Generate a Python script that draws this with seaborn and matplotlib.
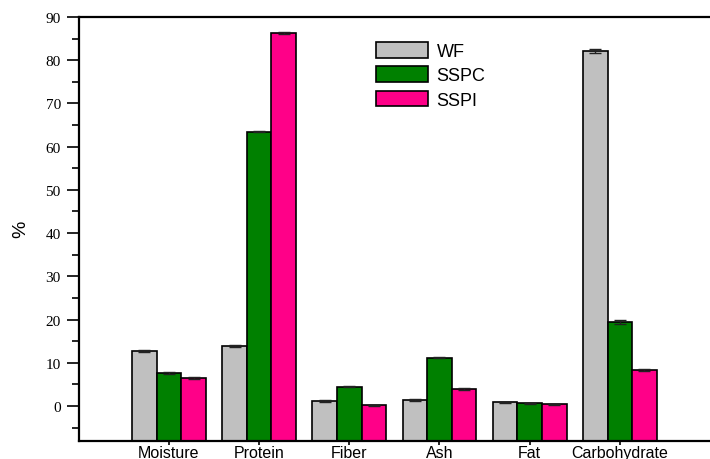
import matplotlib
matplotlib.use("Agg")
import matplotlib.pyplot as plt
from matplotlib.ticker import MultipleLocator
import seaborn as sns
import pandas as pd

categories = ["Moisture", "Protein", "Fiber", "Ash", "Fat", "Carbohydrate"]
series_names = ["WF", "SSPC", "SSPI"]
wf = [12.7, 13.8, 1.2, 1.4, 0.9, 82.1]
sspc = [7.7, 63.5, 4.5, 11.2, 0.6, 19.5]
sspi = [6.5, 86.3, 0.2, 4.0, 0.4, 8.4]
wf_err = [0.2, 0.2, 0.3, 0.2, 0.1, 0.4]
sspc_err = [0.2, 0.2, 0.2, 0.2, 0.1, 0.5]
sspi_err = [0.2, 0.2, 0.1, 0.2, 0.1, 0.2]
colors = ["#C0C0C0", "#008000", "#FF0088"]
y_min, y_max = -8, 90

values = [wf, sspc, sspi]
errors = [wf_err, sspc_err, sspi_err]
df = pd.DataFrame({
    "category": [c for _ in series_names for c in categories],
    "series": [s for s in series_names for _ in categories],
    "value": [v for vals in values for v in vals],
})

sns.set_style("white")
plt.rcParams["font.family"] = ["Liberation Sans", "DejaVu Sans"]
plt.rcParams["text.color"] = "black"
plt.rcParams["axes.labelcolor"] = "black"
plt.rcParams["xtick.color"] = "black"
plt.rcParams["ytick.color"] = "black"

fig = plt.figure(figsize=(7.1, 4.6), dpi=100)
ax = fig.add_axes([0.111, 0.040, 0.889, 0.921])

sns.barplot(data=df, x="category", y="value", hue="series", order=categories,
            hue_order=series_names, palette=colors, width=0.82, errorbar=None,
            edgecolor="black", linewidth=1.2, saturation=1, ax=ax)

# Bars rise from the bottom of the axis (Origin-style baseline)
for cont, errs in zip(ax.containers, errors):
    xs, tops = [], []
    for bar in cont:
        h = bar.get_height()
        bar.set_y(y_min)
        bar.set_height(h - y_min)
        xs.append(bar.get_x() + bar.get_width() / 2)
        tops.append(h)
    ax.errorbar(xs, tops, yerr=errs, fmt="none", ecolor="#222222",
                elinewidth=1.0, capsize=4, capthick=1.0, zorder=3)

ax.set_ylim(y_min, y_max)
ax.set_xlim(-1, 6)
ax.yaxis.set_major_locator(MultipleLocator(10))
ax.yaxis.set_minor_locator(MultipleLocator(5))
ax.set_yticks(range(0, 91, 10))
ax.set_yticklabels([str(v) for v in range(0, 91, 10)],
                   family=["Liberation Serif", "DejaVu Serif"], fontsize=11)
ax.set_xticks(range(len(categories)))
ax.set_xticklabels(categories, fontsize=11.5)

ax.tick_params(axis="y", which="major", direction="out", length=9, width=1.2,
               left=True, pad=4, colors="black")
ax.tick_params(axis="y", which="minor", direction="out", length=5, width=1.2,
               left=True, colors="black")
ax.tick_params(axis="x", direction="out", length=3, width=1.2, bottom=True,
               pad=0, colors="black")

for side in ["left", "bottom", "top"]:
    ax.spines[side].set_visible(True)
    ax.spines[side].set_color("black")
    ax.spines[side].set_linewidth(1.6)
ax.spines["right"].set_visible(False)

ax.set_xlabel("")
ax.set_ylabel("%", fontsize=14, labelpad=12, color="black")

handles, labels = ax.get_legend_handles_labels()
leg = ax.legend(handles, labels, loc="upper left",
                bbox_to_anchor=(376 / 710, 1 - 43 / 460),
                bbox_transform=fig.transFigure, frameon=False, fontsize=13,
                handlelength=2.9, handleheight=0.95, handletextpad=0.45,
                labelspacing=0.35, borderpad=0, borderaxespad=0)
for t in leg.get_texts():
    t.set_color("black")
for p in leg.get_patches():
    p.set_edgecolor("black")
    p.set_linewidth(1.2)

fig.savefig("out.png", dpi=100)
